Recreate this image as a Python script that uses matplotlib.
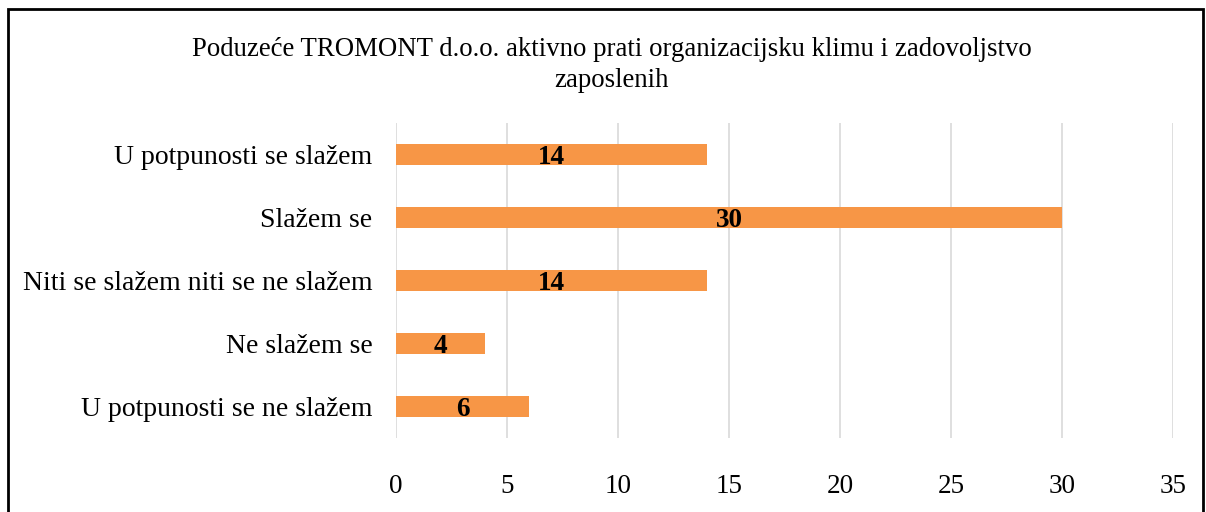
import matplotlib.pyplot as plt
from matplotlib.patches import Rectangle

categories = ['U potpunosti se ne slažem', 'Ne slažem se',
              'Niti se slažem niti se ne slažem', 'Slažem se',
              'U potpunosti se slažem']
values = [6, 4, 14, 30, 14]
xticks = [0, 5, 10, 15, 20, 25, 30, 35]
title = 'Poduzeće TROMONT d.o.o. aktivno prati organizacijsku klimu i zadovoljstvo\nzaposlenih'

plt.rcParams['font.family'] = ['Liberation Serif', 'DejaVu Serif']

fig = plt.figure(figsize=(12.06, 5.12), dpi=100)
ax = fig.add_axes([0.3284, 0.1445, 0.6442, 0.6153])

ypos = range(len(categories))
ax.barh(ypos, values, height=0.34, color='#F79646', zorder=3)
for y, v in zip(ypos, values):
    # digits sit a bit high with va='center', nudge down
    ax.text(v / 2, y - 0.05, str(v), ha='center', va='center', fontsize=19.5,
            fontweight='bold', color='black', zorder=4)

ax.set_xlim(0, 35)
ax.set_ylim(-0.5, 4.5)
ax.set_xticks(xticks)
ax.set_yticks(list(ypos))
ax.set_yticklabels(categories, fontsize=20)
ax.tick_params(axis='x', labelsize=19.5, length=0, pad=26)
ax.tick_params(axis='y', length=0, pad=17)
ax.grid(axis='x', color='#D9D9D9', linewidth=1.2, zorder=0)
for s in ax.spines.values():
    s.set_visible(False)

fig.text(0.507, 0.927, title, ha='center', va='top', fontsize=19.3,
         linespacing=1.3)

fig.patches.append(Rectangle((8 / 1206, -0.05), 1195 / 1206, 1.05 - 9 / 512,
                             transform=fig.transFigure, fill=False,
                             edgecolor='black', linewidth=2.0))

fig.savefig('out.png', dpi=100)
